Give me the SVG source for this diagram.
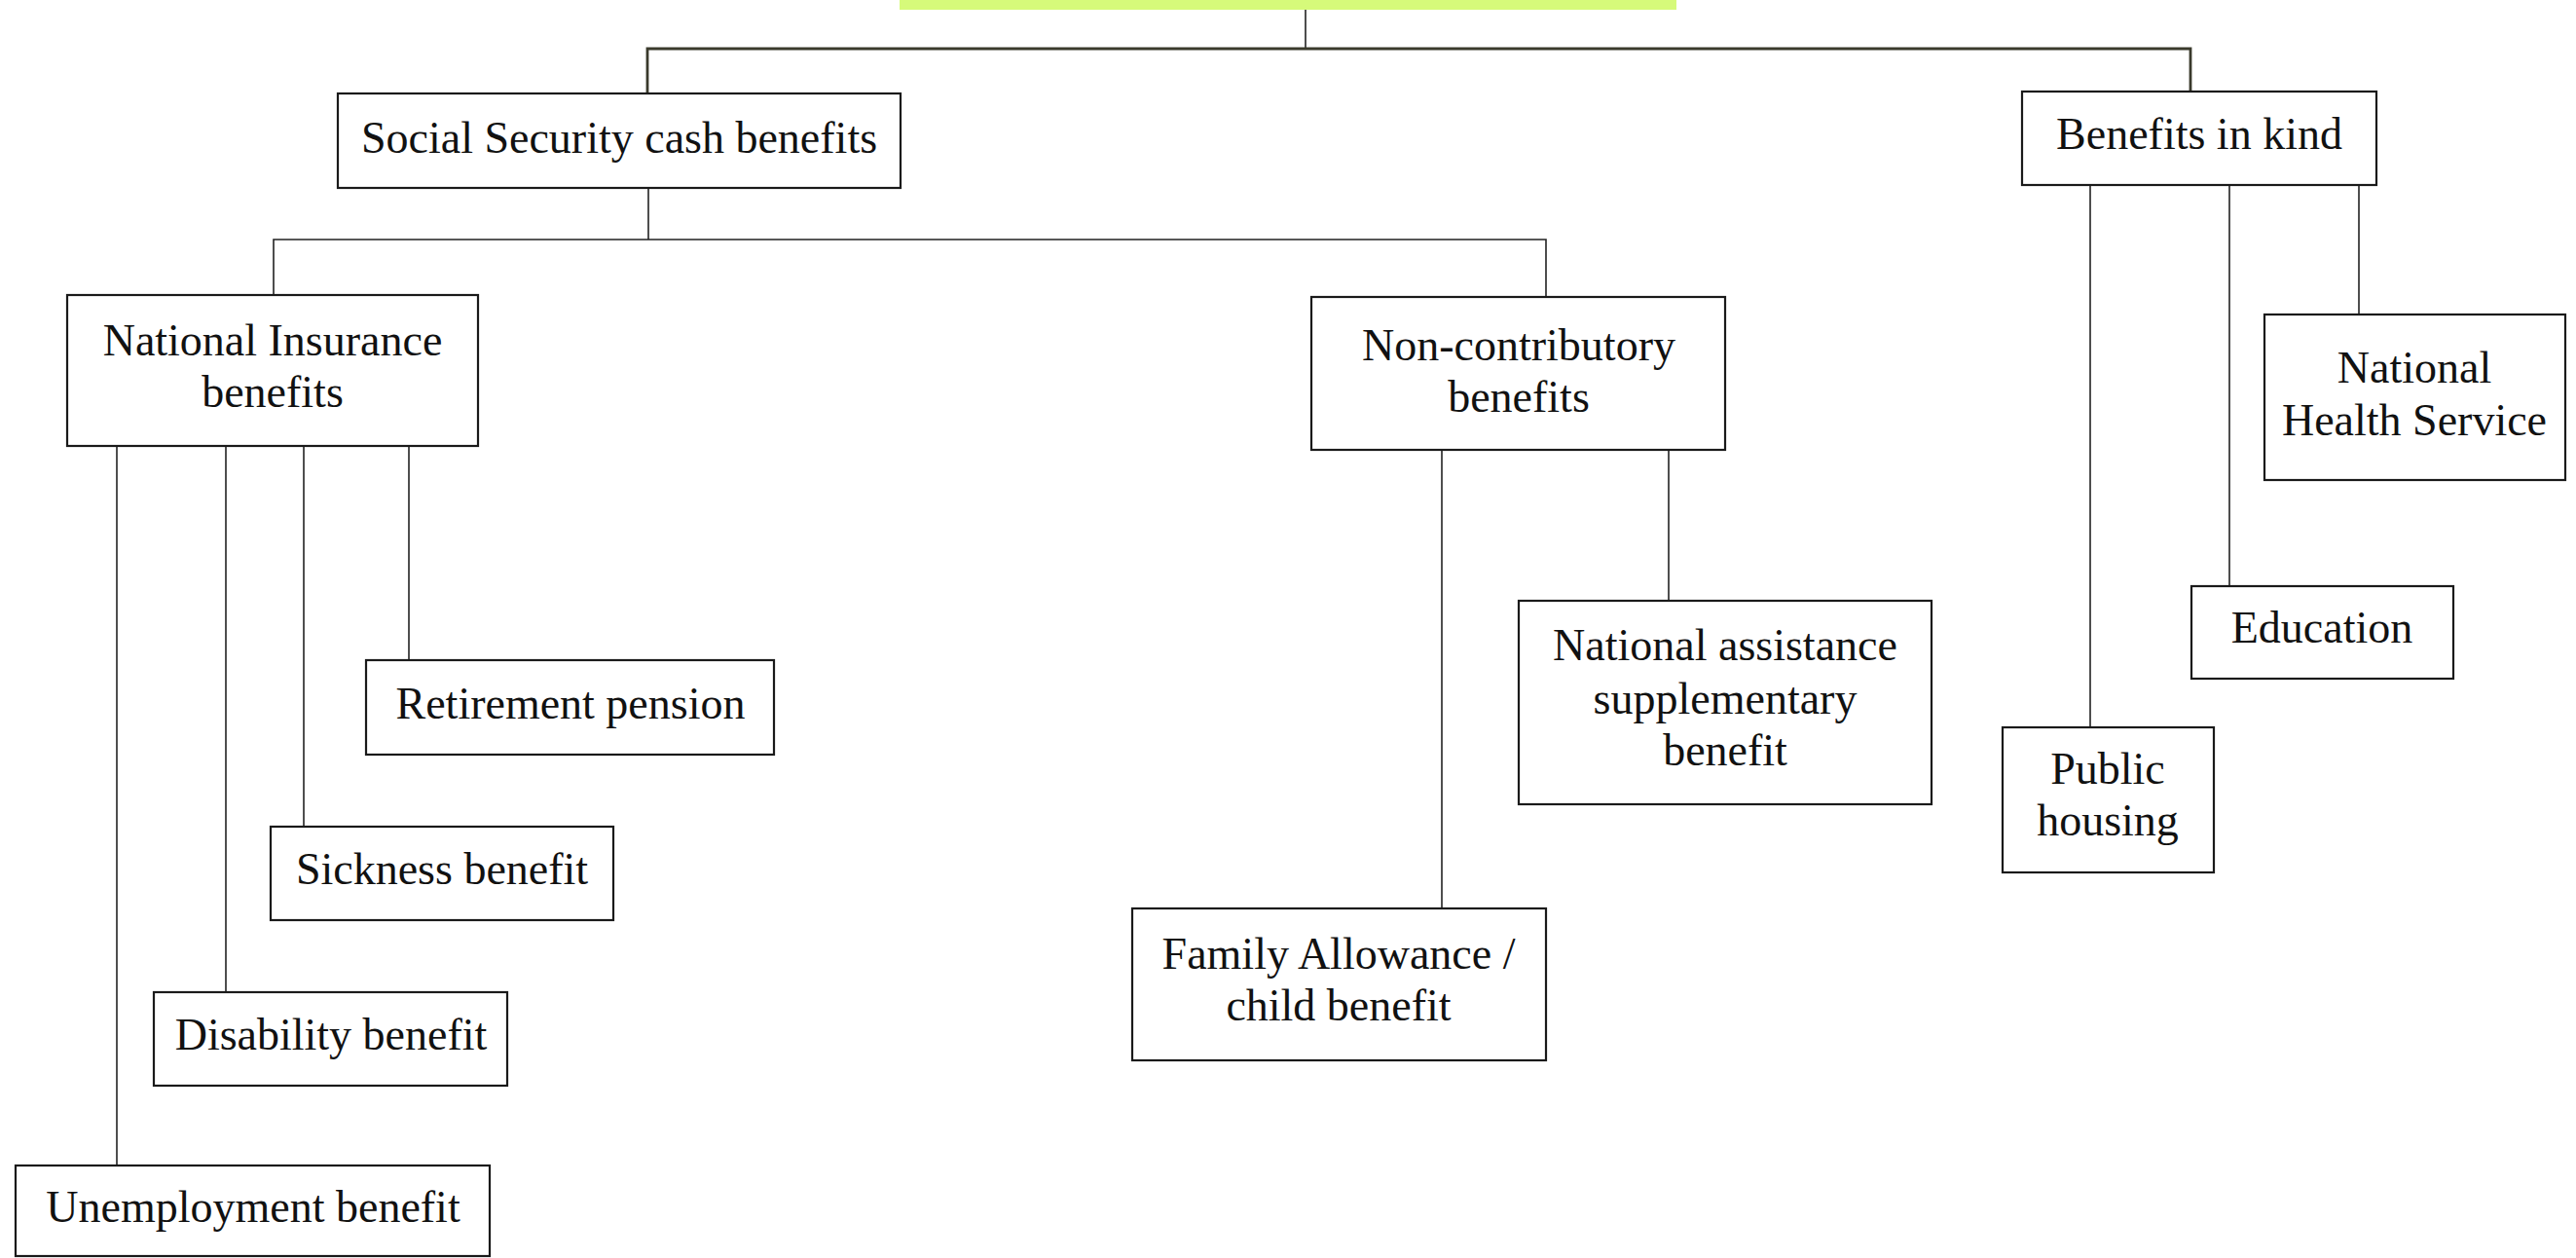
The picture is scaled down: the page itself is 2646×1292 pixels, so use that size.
<svg xmlns="http://www.w3.org/2000/svg" width="2646" height="1292" viewBox="0 0 2646 1292">
<style>
.box{fill:#fff;stroke:#1a1a1a;stroke-width:2.2}
.lbl{font-family:"Liberation Serif","DejaVu Serif",serif;font-size:46px;fill:#111;text-anchor:middle}
.con{fill:none;stroke:#222;stroke-width:1.6}
.top{fill:none;stroke:#3a3a2c;stroke-width:2.8}
</style>
<rect x="0" y="0" width="2646" height="1292" fill="#fff"/>
<rect id="header-bar" x="924" y="0" width="798" height="10" fill="#d6fa7a"/>
<g id="connectors">
<path class="con" d="M1341 10 V50"/>
<path class="top" d="M665 96 V50 H2250 V94"/>
<path class="con" d="M666 193 V246"/>
<path class="con" d="M281 303 V246 H1588 V305"/>
<path class="con" d="M120 458 V1197"/>
<path class="con" d="M232 458 V1019"/>
<path class="con" d="M312 458 V849"/>
<path class="con" d="M420 458 V678"/>
<path class="con" d="M1481 462 V933"/>
<path class="con" d="M1714 462 V617"/>
<path class="con" d="M2147 190 V748"/>
<path class="con" d="M2290 190 V602"/>
<path class="con" d="M2423 190 V323"/>
</g>
<g id="social-security-cash-benefits">
<rect class="box" x="347" y="96" width="578" height="97"/>
<text class="lbl" x="636" y="157">Social Security cash benefits</text>
</g>
<g id="benefits-in-kind">
<rect class="box" x="2077" y="94" width="364" height="96"/>
<text class="lbl" x="2259" y="153">Benefits in kind</text>
</g>
<g id="national-insurance-benefits">
<rect class="box" x="69" y="303" width="422" height="155"/>
<text class="lbl" x="280" y="365">National Insurance</text>
<text class="lbl" x="280" y="418">benefits</text>
</g>
<g id="non-contributory-benefits">
<rect class="box" x="1347" y="305" width="425" height="157"/>
<text class="lbl" x="1560" y="370">Non-contributory</text>
<text class="lbl" x="1560" y="423">benefits</text>
</g>
<g id="retirement-pension">
<rect class="box" x="376" y="678" width="419" height="97"/>
<text class="lbl" x="586" y="738">Retirement pension</text>
</g>
<g id="sickness-benefit">
<rect class="box" x="278" y="849" width="352" height="96"/>
<text class="lbl" x="454" y="908">Sickness benefit</text>
</g>
<g id="disability-benefit">
<rect class="box" x="158" y="1019" width="363" height="96"/>
<text class="lbl" x="340" y="1078">Disability benefit</text>
</g>
<g id="unemployment-benefit">
<rect class="box" x="16" y="1197" width="487" height="93"/>
<text class="lbl" x="260" y="1255">Unemployment benefit</text>
</g>
<g id="national-assistance">
<rect class="box" x="1560" y="617" width="424" height="209"/>
<text class="lbl" x="1772" y="678">National assistance</text>
<text class="lbl" x="1772" y="733">supplementary</text>
<text class="lbl" x="1772" y="786">benefit</text>
</g>
<g id="family-allowance">
<rect class="box" x="1163" y="933" width="425" height="156"/>
<text class="lbl" x="1375" y="995">Family Allowance /</text>
<text class="lbl" x="1375" y="1048">child benefit</text>
</g>
<g id="public-housing">
<rect class="box" x="2057" y="747" width="217" height="149"/>
<text class="lbl" x="2165" y="805">Public</text>
<text class="lbl" x="2165" y="858">housing</text>
</g>
<g id="education">
<rect class="box" x="2251" y="602" width="269" height="95"/>
<text class="lbl" x="2385" y="660">Education</text>
</g>
<g id="national-health-service">
<rect class="box" x="2326" y="323" width="309" height="170"/>
<text class="lbl" x="2480" y="393">National</text>
<text class="lbl" x="2480" y="447">Health Service</text>
</g>
</svg>
